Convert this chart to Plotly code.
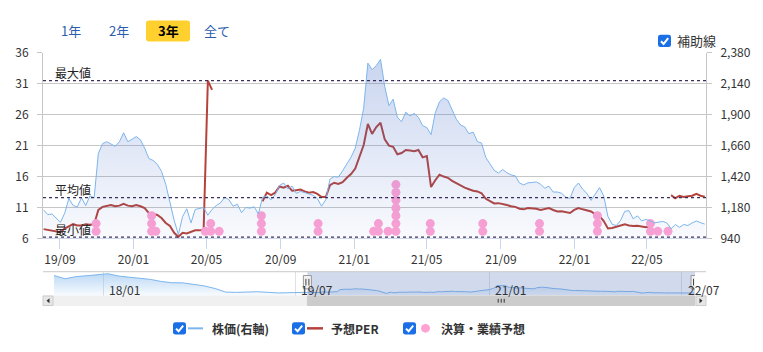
import plotly.graph_objects as go
import pandas as pd

W, H = 763, 352


def px(x):
    return x / W


def py(y):
    return 1 - y / H


# ---------------- data ----------------
price_start = "2019-08-05"
price_end = "2022-08-05"
# weekly closing price (right axis)
price = [
    1160, 1125, 1130, 1100, 1065, 1135, 1250, 1195, 1185, 1255,
    1195, 1270, 1255, 1600, 1675, 1690, 1670, 1655, 1690, 1760,
    1690, 1710, 1730, 1705, 1640, 1560, 1545, 1515, 1460, 1360,
    1220, 1080, 970, 1110, 1170, 1060, 1165, 1175, 1180, 1120,
    1165, 1195, 1215, 1260, 1240, 1190, 1205, 1140, 1180, 1175,
    1185, 1130, 1260, 1270, 1240, 1280, 1350, 1370, 1325, 1345,
    1290, 1305, 1295, 1280, 1275, 1250, 1190, 1240, 1400, 1420,
    1415, 1465, 1515, 1570, 1640, 1780, 1950, 2300, 2250, 2280,
    2330, 2120, 1970, 2020, 1880, 1845, 1920, 1890, 1910, 1880,
    1815, 1800, 1745, 1915, 2000, 2030, 2011, 1940, 1865, 1820,
    1805, 1752, 1765, 1691, 1680, 1568, 1520, 1468, 1447, 1475,
    1450, 1433, 1425, 1370, 1355, 1371, 1374, 1378, 1360, 1330,
    1345, 1300, 1300, 1290, 1260, 1250, 1334, 1370, 1322, 1290,
    1235, 1285, 1334, 1270, 1110, 1050, 1040, 1080, 1150, 1155,
    1092, 1115, 1076, 1087, 1078, 1060, 1065, 1072, 1060, 1015,
    1048, 1026, 1048, 1040, 1060, 1075, 1062, 1051,
]
# weekly forecast PER (left axis)
per = [
    7.5, 7.4, 7.3, 7.2, 7.0, 7.6, 8.0, 8.3, 8.1, 8.1,
    8.3, 8.2, 8.3, 10.6, 11.1, 11.2, 11.4, 11.2, 11.3, 11.6,
    11.3, 11.2, 11.4, 11.2, 10.9, 10.1, 9.9, 9.8, 9.3, 8.5,
    8.0, 6.9, 6.26, 6.9, 6.8, 7.1, 7.3, 7.3, 7.4, 31.5,
    30.0, None, None, None, None, None, None, None, None, None,
    None, None, 12.0, 13.4, 13.0, 13.4, 14.4, 14.2, 14.5, 13.7,
    13.8, 13.9, 13.6, 13.4, 13.5, 13.2, 12.7, 12.7, 14.6, 15.0,
    14.8, 15.1, 15.8, 16.4, 17.3, 19.2, 21.1, 24.5, 22.9, 24.0,
    24.7, 22.0, 21.0, 20.8, 19.6, 19.8, 20.3, 20.2, 20.1, 20.3,
    19.1, 19.3, 14.3, 15.4, 16.3, 16.0, 15.8, 15.3, 14.9, 14.6,
    14.2, 13.95, 13.7, 13.6, 13.3, 12.4, 12.0, 11.65, 11.7, 11.6,
    11.4, 11.2, 11.1, 10.8, 10.7, 10.9, 10.9, 10.8, 10.6, 10.7,
    10.9, 10.6, 10.35, 10.4, 10.3, 10.1, 10.6, 10.9, 10.7, 10.5,
    10.35, 9.9, 9.6, 8.8, 7.6, 7.7, 7.9, 8.1, 8.3, 8.1,
    8.0, 8.05, 7.9, 7.8, 7.95, None, None, None, None, 13.0,
    12.5, 12.9, 12.7, 12.8, 12.9, 13.2, 12.9, 12.75,
]

# earnings / forecast announcements (date, number of stacked items)
event_dates = [
    "2019-10-31", "2020-01-31", "2020-02-07", "2020-04-29", "2020-05-08",
    "2020-05-22", "2020-07-31", "2020-11-02", "2021-02-02", "2021-02-10",
    "2021-02-26", "2021-03-11", "2021-05-07", "2021-08-02", "2021-11-04",
    "2022-02-08", "2022-05-07", "2022-05-19", "2022-06-05",
]
event_counts = [2, 3, 1, 1, 2, 1, 3, 2, 1, 2, 1, 7, 2, 2, 2, 3, 2, 1, 1]

# navigator history before the 3-year window (monthly)
nav_hist_dates = [
    "2017-08-15", "2017-09-15", "2017-10-15", "2017-11-15", "2017-12-15",
    "2018-01-15", "2018-02-15", "2018-03-15", "2018-04-15", "2018-05-15",
    "2018-06-15", "2018-07-15", "2018-08-15", "2018-09-15", "2018-10-15",
    "2018-11-15", "2018-12-15", "2019-01-15", "2019-02-15", "2019-03-15",
    "2019-04-15", "2019-05-15", "2019-06-15", "2019-07-15",
]
nav_hist_price = [
    4000, 3450, 3800, 3950, 4150, 4300, 3900, 3700, 3600, 3350,
    3000, 2780, 2760, 2500, 2250, 1800, 1200, 1150, 1250, 1260,
    1150, 1050, 1100, 1180,
]

ref_labels = ["最大値", "平均値", "最小値"]
ref_values = [31.5, 12.6, 6.2]

per_ticks = [6, 11, 16, 21, 26, 31, 36]
price_ticks = [940, 1180, 1420, 1660, 1900, 2140, 2380]
nav_tick_dates = ["2018-01-01", "2019-07-01", "2021-01-01", "2022-07-01"]

range_buttons = ["1年", "2年", "3年", "全て"]
active_button = "3年"
aux_label = "補助線"
legend_names = ["株価(右軸)", "予想PER", "決算・業績予想"]

main_range = ["2019-08-04", "2022-08-07"]
nav_range = ["2017-08-12", "2022-08-08"]

# ---------------- styling ----------------
FONT = "Noto Sans CJK JP, Noto Sans, sans-serif"
TXT = "#333333"
BLUE = "#7cb5ec"
RED = "#b5433c"
PINK = "#ffa2d4"
GRID = "#c6c6c6"
CHECK_BLUE = "#1a6fe6"
DOT_BASE, DOT_STEP = 7.14, 1.26

dates = pd.date_range(price_start, price_end, periods=len(price))
nav_x = list(pd.to_datetime(nav_hist_dates)) + list(dates)
nav_y = nav_hist_price + price

ev_x, ev_y = [], []
for d, c in zip(event_dates, event_counts):
    for r in range(c):
        ev_x.append(d)
        ev_y.append(DOT_BASE + r * DOT_STEP)

fig = go.Figure()
fig.add_trace(go.Scatter(
    x=dates, y=price, yaxis="y2", mode="lines",
    line=dict(color=BLUE, width=1),
    fill="tozeroy",
    fillgradient=dict(type="vertical", start=940, stop=2380,
                      colorscale=[[0, "rgba(70,110,200,0.02)"],
                                  [1, "rgba(70,110,200,0.30)"]]),
    hoverinfo="skip", name=legend_names[0]))
fig.add_trace(go.Scatter(
    x=dates, y=per, mode="lines", connectgaps=False,
    line=dict(color=RED, width=2), hoverinfo="skip", name=legend_names[1]))
fig.add_trace(go.Scatter(
    x=ev_x, y=ev_y, mode="markers",
    marker=dict(size=9, color=PINK), hoverinfo="skip", name=legend_names[2]))
fig.add_trace(go.Scatter(
    x=nav_x, y=nav_y, xaxis="x2", yaxis="y3", mode="lines",
    line=dict(color=BLUE, width=1),
    fill="tozeroy",
    fillgradient=dict(type="vertical", start=620, stop=4645,
                      colorscale=[[0, "rgba(124,181,236,0.03)"],
                                  [1, "rgba(124,181,236,0.55)"]]),
    hoverinfo="skip", showlegend=False))

shapes = []
annotations = []


def rrect_path(x0, y0, x1, y1, r):
    P = lambda x, y: f"{px(x):.5f},{py(y):.5f}"
    return (f"M{P(x0 + r, y0)} L{P(x1 - r, y0)} Q{P(x1, y0)} {P(x1, y0 + r)} "
            f"L{P(x1, y1 - r)} Q{P(x1, y1)} {P(x1 - r, y1)} L{P(x0 + r, y1)} "
            f"Q{P(x0, y1)} {P(x0, y1 - r)} L{P(x0, y0 + r)} Q{P(x0, y0)} {P(x0 + r, y0)} Z")


def checkbox(x0, y0, s=13):
    shapes.append(dict(type="path", xref="paper", yref="paper",
                       path=rrect_path(x0, y0, x0 + s, y0 + s, 2.5),
                       fillcolor=CHECK_BLUE, line=dict(width=0), layer="above"))
    P = lambda x, y: f"{px(x):.5f},{py(y):.5f}"
    shapes.append(dict(type="path", xref="paper", yref="paper",
                       path=f"M{P(x0 + 3, y0 + 6.8)} L{P(x0 + 5.6, y0 + 9.6)} L{P(x0 + 10.2, y0 + 3.6)}",
                       line=dict(color="white", width=2), layer="above"))


def text(x, y, s, size=12, color=TXT, anchor="center", bold=False):
    annotations.append(dict(xref="paper", yref="paper", x=px(x), y=py(y),
                            text=f"<b>{s}</b>" if bold else s, showarrow=False,
                            xanchor=anchor, yanchor="middle",
                            font=dict(family=FONT, size=size, color=color)))


# range buttons
btn_cx = [71, 119, 168, 216.5]
for cx, lab in zip(btn_cx, range_buttons):
    if lab == active_button:
        shapes.append(dict(type="path", xref="paper", yref="paper",
                           path=rrect_path(cx - 22, 11, cx + 22, 33, 3),
                           fillcolor="#ffd02e", line=dict(width=0)))
        text(cx, 22, lab, size=13, color="#000000", bold=True)
    else:
        text(cx, 22, lab, size=13, color="#2a5db0")

# aux checkbox
checkbox(658, 26)
text(675, 32.5, aux_label, size=13, anchor="left")

# reference lines
for lab, v in zip(ref_labels, ref_values):
    shapes.append(dict(type="line", xref="x domain", yref="y", x0=0, x1=1, y0=v, y1=v,
                       line=dict(color="#3d2f5c", width=1.2, dash="3px,3px"), layer="above"))
    annotations.append(dict(xref="paper", yref="y", x=px(53), y=v, text=lab,
                            showarrow=False, xanchor="left", yanchor="middle", yshift=8,
                            font=dict(family=FONT, size=12, color="#222222")))

# navigator tick labels
for d in nav_tick_dates:
    annotations.append(dict(xref="x2", yref="paper", x=d, y=py(294),
                            text=pd.Timestamp(d).strftime("%y/%m"), showarrow=False,
                            xanchor="left", yanchor="middle", xshift=4,
                            font=dict(family=FONT, size=12, color=TXT)))

# navigator
sel0, sel1 = main_range[0], nav_range[1]
shapes.append(dict(type="rect", xref="x2", yref="paper", x0=sel0, x1=sel1,
                   y0=py(300), y1=py(275), fillcolor="rgba(102,133,194,0.3)",
                   line=dict(width=0), layer="above"))
shapes.append(dict(type="line", xref="paper", yref="paper", x0=px(43), x1=px(706),
                   y0=py(275), y1=py(275), line=dict(color="#c8c8c8", width=1), layer="above"))
for anchor in (sel0, sel1):
    shapes.append(dict(type="rect", xref="x2", xsizemode="pixel", xanchor=anchor,
                       x0=-4, x1=4, yref="paper", y0=py(293), y1=py(279),
                       fillcolor="#f2f2f2", line=dict(color="#999999", width=1), layer="above"))
    for dx in (-1.5, 1.5):
        shapes.append(dict(type="line", xref="x2", xsizemode="pixel", xanchor=anchor,
                           x0=dx, x1=dx, yref="paper", y0=py(282.5), y1=py(289.5),
                           line=dict(color="#444444", width=1), layer="above"))

# scrollbar
shapes.append(dict(type="rect", xref="paper", yref="paper", x0=px(43), x1=px(706),
                   y0=py(311), y1=py(300), fillcolor="#f0f0f0", line=dict(width=0)))
for bx0, bx1 in ((43, 53), (696, 706)):
    shapes.append(dict(type="rect", xref="paper", yref="paper", x0=px(bx0), x1=px(bx1),
                       y0=py(310.5), y1=py(300.5), fillcolor="#e6e6e6",
                       line=dict(color="#cccccc", width=1)))
P = lambda x, y: f"{px(x):.5f},{py(y):.5f}"
shapes.append(dict(type="path", xref="paper", yref="paper",
                   path=f"M{P(46.5, 305.5)} L{P(49.5, 303)} L{P(49.5, 308)} Z",
                   fillcolor="#333333", line=dict(width=0)))
shapes.append(dict(type="path", xref="paper", yref="paper",
                   path=f"M{P(702.5, 305.5)} L{P(699.5, 303)} L{P(699.5, 308)} Z",
                   fillcolor="#333333", line=dict(width=0)))
shapes.append(dict(type="rect", xref="x2", x0=sel0, x1=sel1, yref="paper",
                   y0=py(310.5), y1=py(300.5), fillcolor="#cccccc",
                   line=dict(color="#cccccc", width=1)))
mid = pd.Timestamp(sel0) + (pd.Timestamp(sel1) - pd.Timestamp(sel0)) / 2
for dx in (-3, 0, 3):
    shapes.append(dict(type="line", xref="x2", xsizemode="pixel", xanchor=mid,
                       x0=dx, x1=dx, yref="paper", y0=py(303.5), y1=py(307.5),
                       line=dict(color="#333333", width=1)))

# custom legend
checkbox(173, 328)
shapes.append(dict(type="line", xref="paper", yref="paper", x0=px(188), x1=px(203),
                   y0=py(334.5), y1=py(334.5), line=dict(color=BLUE, width=2)))
text(210, 335, legend_names[0], anchor="left", bold=True)
checkbox(292, 328)
shapes.append(dict(type="line", xref="paper", yref="paper", x0=px(307), x1=px(323),
                   y0=py(334.5), y1=py(334.5), line=dict(color=RED, width=2.5)))
text(329, 335, legend_names[1], anchor="left", bold=True)
checkbox(403, 328)
shapes.append(dict(type="circle", xref="paper", yref="paper", x0=px(421), x1=px(430),
                   y0=py(339), y1=py(330), fillcolor=PINK, line=dict(width=0)))
text(439, 335, legend_names[2], anchor="left", bold=True)

tickfont = dict(family=FONT, size=12, color=TXT)
fig.update_layout(
    width=W, height=H, margin=dict(l=0, r=0, t=0, b=0),
    paper_bgcolor="white", plot_bgcolor="white", showlegend=False,
    font=dict(family=FONT, color=TXT),
    xaxis=dict(domain=[px(43), px(706)], range=main_range, type="date",
               tickformat="%y/%m", tick0="2019-09-01", dtick="M4",
               ticks="outside", ticklen=10, tickcolor="#ccd6eb",
               showline=True, linecolor="#ccd6eb", showgrid=False, zeroline=False,
               tickfont=tickfont, anchor="y"),
    yaxis=dict(domain=[py(240), py(45)], range=[6, 36], tickvals=per_ticks,
               showgrid=True, gridcolor=GRID, ticks="outside", ticklen=5,
               tickcolor=GRID, showline=True, linecolor=GRID, zeroline=False,
               tickfont=tickfont, ticklabelstandoff=6, anchor="x"),
    yaxis2=dict(overlaying="y", side="right", range=[940, 2380], tickvals=price_ticks,
                tickformat=",", showgrid=False, ticks="outside", ticklen=5,
                tickcolor=GRID, showline=True, linecolor=GRID, zeroline=False,
                tickfont=tickfont, ticklabelstandoff=6, anchor="x"),
    xaxis2=dict(domain=[px(53), px(695)], range=nav_range, type="date", anchor="y3",
                tickvals=nav_tick_dates, showticklabels=False, ticks="",
                showgrid=True, gridcolor="#e0e0e0", showline=False, zeroline=False),
    yaxis3=dict(domain=[py(300), py(275)], range=[620, 4645], visible=False),
    shapes=shapes, annotations=annotations,
)

fig.write_html("out.html", config={"displayModeBar": False})
